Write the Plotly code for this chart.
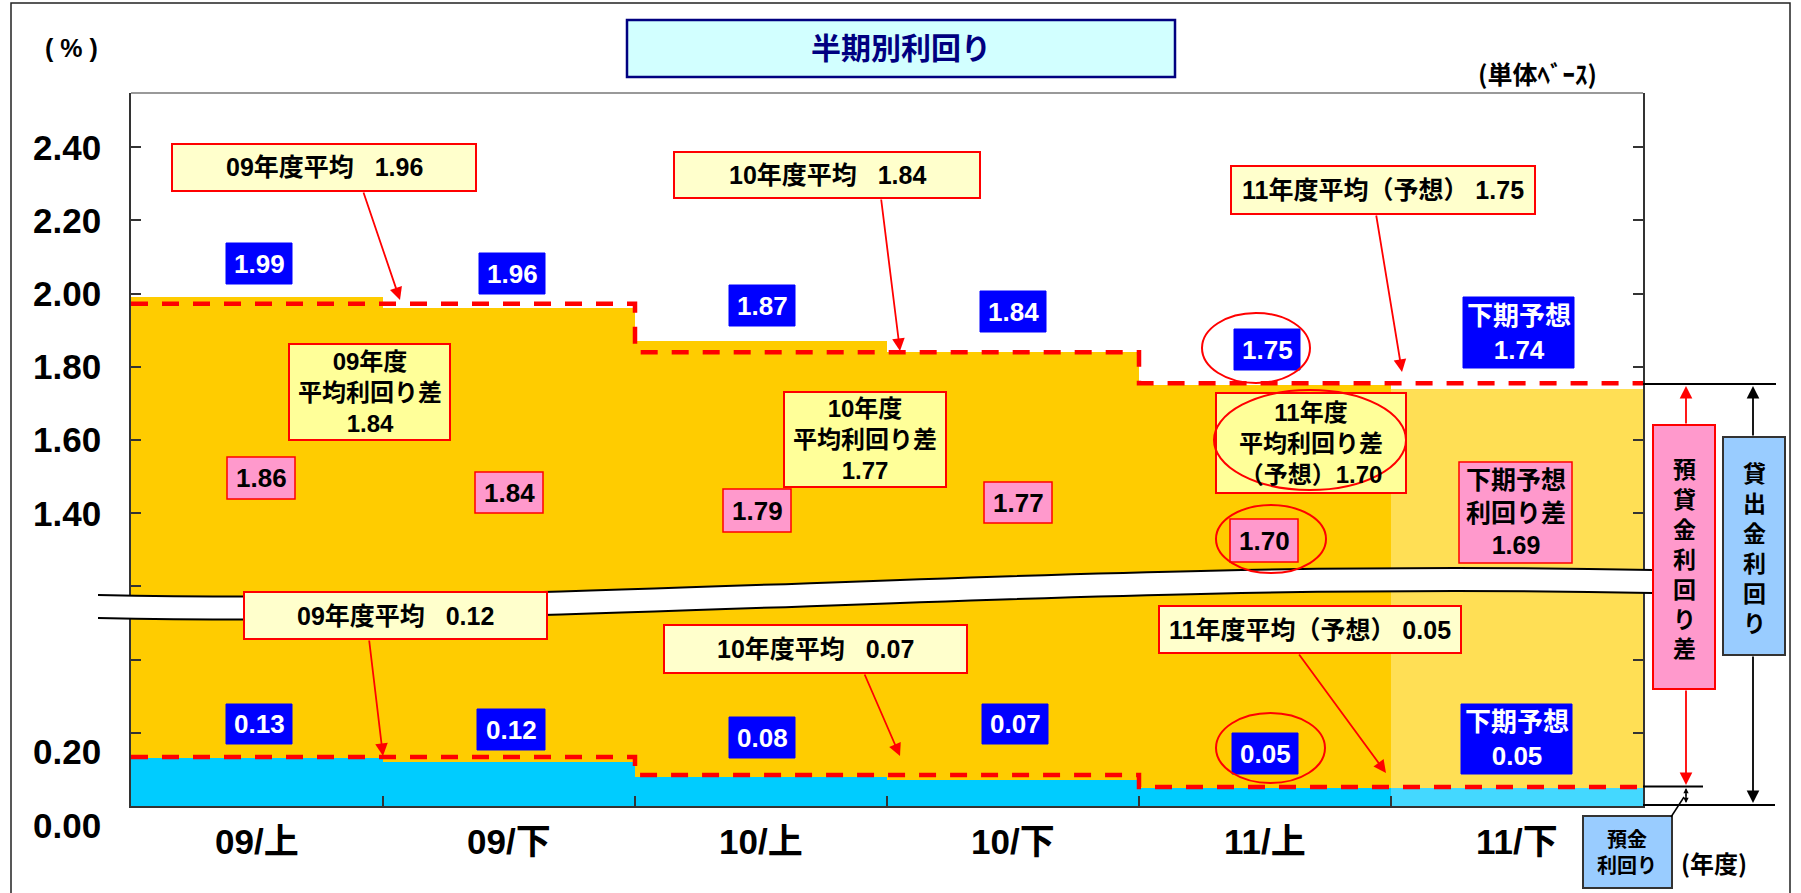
import plotly.graph_objects as go

# ---------------- data ----------------
categories = ["09/上", "09/下", "10/上", "10/下", "11/上", "11/下"]
forecast = [False, False, False, False, False, True]
loan_yield = [1.99, 1.96, 1.87, 1.84, 1.75, 1.74]        # 貸出金利回り
deposit_yield = [0.13, 0.12, 0.08, 0.07, 0.05, 0.05]     # 預金利回り
spread = [1.86, 1.84, 1.79, 1.77, 1.70, 1.69]            # 預貸金利回り差

fiscal_years = ["09", "10", "11"]
fy_forecast = [False, False, True]
fy_avg_loan = [1.96, 1.84, 1.75]
fy_avg_deposit = [0.12, 0.07, 0.05]
fy_avg_spread = [1.84, 1.77, 1.70]
# levels at which the dashed average lines are drawn in the picture
fy_avg_loan_line = [1.972, 1.84, 1.755]
fy_avg_deposit_line = [0.134, 0.085, 0.052]

upper_tick_values = [1.40, 1.60, 1.80, 2.00, 2.20, 2.40]
upper_tick_labels = ["1.40", "1.60", "1.80", "2.00", "2.20", "2.40"]
lower_tick_values = [0.0, 0.2]
lower_tick_labels = ["0.00", "0.20"]

BREAK = 0.6   # values above the axis break are shifted down by this amount

# ---------------- geometry helpers ----------------
W, H = 1801, 893
PL, PR, PT, PB = 131, 1643, 93, 806
UNIT = 366.0
FONT = "Liberation Sans, Noto Sans CJK JP, sans-serif"
CJK = "Noto Sans CJK JP, sans-serif"


def xp(px):
    return (px - PL) / (PR - PL)


def yp(py):
    return (PB - py) / (PB - PT)


fig = go.Figure()

xc = [i + 0.5 for i in range(len(categories))]
cyan = ["#44D8FF" if f else "#00CCFF" for f in forecast]
yellow = ["#FFDF55" if f else "#FFCC00" for f in forecast]

fig.add_bar(x=xc, y=deposit_yield, base=[0] * len(xc), width=1,
            marker=dict(color=cyan, line=dict(width=0)))
fig.add_bar(x=xc, y=[l - BREAK - d for l, d in zip(loan_yield, deposit_yield)],
            base=deposit_yield, width=1,
            marker=dict(color=yellow, line=dict(width=0)))

fy_x = [2 * i for i in range(len(fiscal_years) + 1)]
dash_style = dict(color="#FF0000", width=4.5, dash="17px,14px", shape="hv")
fig.add_scatter(x=fy_x, y=[v - BREAK for v in fy_avg_loan_line] + [fy_avg_loan_line[-1] - BREAK],
                mode="lines", line=dash_style)
fig.add_scatter(x=fy_x, y=fy_avg_deposit_line + [fy_avg_deposit_line[-1]],
                mode="lines", line=dash_style)

shapes = []


def rect(x0, y0, x1, y1, fill, line="#FF0000", lw=2):
    shapes.append(dict(type="rect", xref="paper", yref="paper",
                       x0=xp(x0), x1=xp(x1), y0=yp(y1), y1=yp(y0),
                       fillcolor=fill, line=dict(color=line, width=lw), layer="above"))


def seg(x0, y0, x1, y1, color="black", lw=2):
    shapes.append(dict(type="line", xref="paper", yref="paper",
                       x0=xp(x0), x1=xp(x1), y0=yp(y0), y1=yp(y1),
                       line=dict(color=color, width=lw), layer="above"))


def ellipse(x0, y0, x1, y1):
    shapes.append(dict(type="circle", xref="paper", yref="paper",
                       x0=xp(x0), x1=xp(x1), y0=yp(y1), y1=yp(y0),
                       fillcolor="rgba(0,0,0,0)", line=dict(color="#FF0000", width=2),
                       layer="above"))


def pt(px, py):
    return f"{xp(px):.5f},{yp(py):.5f}"


# outer frame, title box, plot top border
rect(11, 3, 1790, 905, "rgba(0,0,0,0)", line="#222222", lw=1.5)
rect(627, 20, 1175, 77, "#D2FFFF", line="#000080", lw=2.5)
seg(PL, PT, PR, PT, color="#999999", lw=2)

# axis break band
up = [(98, 595), (600, 606), (1050, 558), (1652, 570)]
lo = [(x, y + 23) for x, y in up]
band = ("M " + pt(*up[0]) + " C " + pt(*up[1]) + " " + pt(*up[2]) + " " + pt(*up[3]) +
        " L " + pt(*lo[3]) + " C " + pt(*lo[2]) + " " + pt(*lo[1]) + " " + pt(*lo[0]) + " Z")
shapes.append(dict(type="path", xref="paper", yref="paper", path=band,
                   fillcolor="white", line=dict(width=0), layer="above"))
for c in (up, lo):
    p = "M " + pt(*c[0]) + " C " + pt(*c[1]) + " " + pt(*c[2]) + " " + pt(*c[3])
    shapes.append(dict(type="path", xref="paper", yref="paper", path=p,
                       fillcolor="rgba(0,0,0,0)", line=dict(color="black", width=2),
                       layer="above"))

# right-side legend
seg(PR, 384, 1776, 384)
seg(PR, 805, 1775, 805)
seg(PR, 786.5, 1703, 786.5)
rect(1653, 425, 1715, 689, "#FF99CC", line="#FF0000", lw=2)
rect(1723, 437, 1785, 655, "#99CCFF", line="#333333", lw=2)
rect(1583, 816, 1672, 888, "#99CCFF", line="#333333", lw=2)
seg(1671, 817, 1684, 797, lw=1.5)

# callout boxes (averages)
avg_upper_boxes = [(172, 144, 476, 191), (674, 152, 980, 198), (1231, 166, 1535, 214)]
avg_lower_boxes = [(244, 592, 547, 639), (664, 625, 967, 673), (1159, 606, 1461, 653)]
spread_boxes = [(289, 344, 450, 440), (784, 392, 946, 487), (1216, 393, 1406, 493)]
for b in avg_upper_boxes + avg_lower_boxes:
    rect(*b, "#FFFFCC")
for b in spread_boxes:
    rect(*b, "#FFFF99")

loan_boxes = [(226, 243, 292, 284), (479, 253, 545, 294), (729, 285, 795, 326),
              (980, 291, 1046, 332), (1234, 329, 1300, 370), (1463, 297, 1574, 368)]
dep_boxes = [(226, 704, 292, 744), (477, 709, 545, 750), (729, 717, 795, 758),
             (982, 704, 1048, 744), (1232, 733, 1298, 774), (1461, 704, 1572, 774)]
spread_val_boxes = [(227, 457, 295, 499), (475, 472, 543, 513), (723, 489, 791, 532),
                    (984, 482, 1052, 523), (1230, 519, 1298, 562), (1459, 462, 1572, 563)]
for b in loan_boxes + dep_boxes:
    rect(*b, "#0000FF", line="#0000FF", lw=1)
for b in spread_val_boxes:
    rect(*b, "#FF99CC", line="#FF0000", lw=1.5)

ellipse(1202, 313, 1310, 383)
ellipse(1216, 505, 1326, 573)
ellipse(1216, 713, 1325, 783)
ellipse(1214, 390, 1406, 490)

ann = []


def txt(px, py, s, size, color="black", xanchor="center", family=FONT):
    ann.append(dict(x=xp(px), y=yp(py), xref="paper", yref="paper", text=f"<b>{s}</b>",
                    showarrow=False, font=dict(family=family, size=size, color=color),
                    xanchor=xanchor, yanchor="middle", align="center"))


def arrow(tx, ty, hx, hy, color="#FF0000", size=1.4, width=1.8):
    ann.append(dict(x=xp(hx), y=yp(hy), xref="paper", yref="paper", text="",
                    showarrow=True, ax=tx - hx, ay=ty - hy, arrowhead=2,
                    arrowsize=size, arrowwidth=width, arrowcolor=color, standoff=0))


def center(b):
    return (b[0] + b[2]) / 2, (b[1] + b[3]) / 2


# texts
txt(71, 48, "(&nbsp;%&nbsp;)", 25)
txt(901, 48, "半期別利回り", 30, color="#000080")
txt(1537, 73, "(単体ﾍﾞｰｽ)", 25, family=CJK)
txt(1714, 862, "(年度)", 24, family=CJK)

for lab, v in zip(upper_tick_labels, upper_tick_values):
    txt(103, PB - (v - BREAK) * UNIT, lab, 35, xanchor="right")
for lab, v in zip(lower_tick_labels, lower_tick_values):
    txt(103, PB - v * UNIT + 19, lab, 35, xanchor="right")
for i, c in enumerate(categories):
    txt(PL + (i + 0.5) * (PR - PL) / len(categories), 841, c, 35)

SP = "&nbsp;" * 3
for fy, f, v, b in zip(fiscal_years, fy_forecast, fy_avg_loan, avg_upper_boxes):
    s = f"{fy}年度平均（予想） {v:.2f}" if f else f"{fy}年度平均{SP}{v:.2f}"
    txt(*center(b), s, 25)
for fy, f, v, b in zip(fiscal_years, fy_forecast, fy_avg_deposit, avg_lower_boxes):
    s = f"{fy}年度平均（予想） {v:.2f}" if f else f"{fy}年度平均{SP}{v:.2f}"
    txt(*center(b), s, 25)
for fy, f, v, b in zip(fiscal_years, fy_forecast, fy_avg_spread, spread_boxes):
    last = f"（予想）{v:.2f}" if f else f"{v:.2f}"
    txt(*center(b), f"{fy}年度<br>平均利回り差<br>{last}", 24)

for f, v, b in zip(forecast, loan_yield, loan_boxes):
    txt(*center(b), (f"下期予想<br>{v:.2f}" if f else f"{v:.2f}"), 26, color="white")
for f, v, b in zip(forecast, deposit_yield, dep_boxes):
    txt(*center(b), (f"下期予想<br>{v:.2f}" if f else f"{v:.2f}"), 26, color="white")
for f, v, b in zip(forecast, spread, spread_val_boxes):
    txt(*center(b), (f"下期予想<br>利回り差<br>{v:.2f}" if f else f"{v:.2f}"), 26 if not f else 25)

txt(1684, 559, "<br>".join("預貸金利回り差"), 23)
txt(1754, 549, "<br>".join("貸出金利回り"), 23)
txt(1627, 853, "預金<br>利回り", 20)

# arrows
arrow(363, 191, 400, 300)
arrow(881, 198, 900, 351)
arrow(1376, 214, 1402, 372)
arrow(369, 639, 383, 756)
arrow(864, 673, 900, 756)
arrow(1298, 653, 1386, 773)
arrow(1686, 425, 1686, 386)
arrow(1686, 689, 1686, 785)
arrow(1753, 437, 1753, 386, color="black")
arrow(1753, 655, 1753, 803, color="black")
arrow(1686, 797, 1686, 788, color="black", size=0.7, width=1.5)
arrow(1686, 793, 1686, 803, color="black", size=0.7, width=1.5)

fig.update_layout(
    width=W, height=H,
    margin=dict(l=PL, r=W - PR, t=PT, b=H - PB, pad=0),
    paper_bgcolor="white", plot_bgcolor="white",
    showlegend=False, barmode="overlay", bargap=0,
    shapes=shapes, annotations=ann,
    xaxis=dict(range=[0, len(categories)], showgrid=False, zeroline=False,
               showline=True, linecolor="#333333", linewidth=2,
               ticks="inside", ticklen=10, tickcolor="#333333", tickwidth=1.5,
               tickvals=list(range(1, len(categories))), showticklabels=False),
    yaxis=dict(range=[0, (PB - PT) / UNIT], showgrid=False, zeroline=False,
               showline=True, mirror="ticks", linecolor="#333333", linewidth=2,
               ticks="inside", ticklen=10, tickcolor="#333333", tickwidth=1.5,
               tickvals=[0.2 * k for k in range(1, 10)], showticklabels=False),
)

fig.write_html("out.html")
